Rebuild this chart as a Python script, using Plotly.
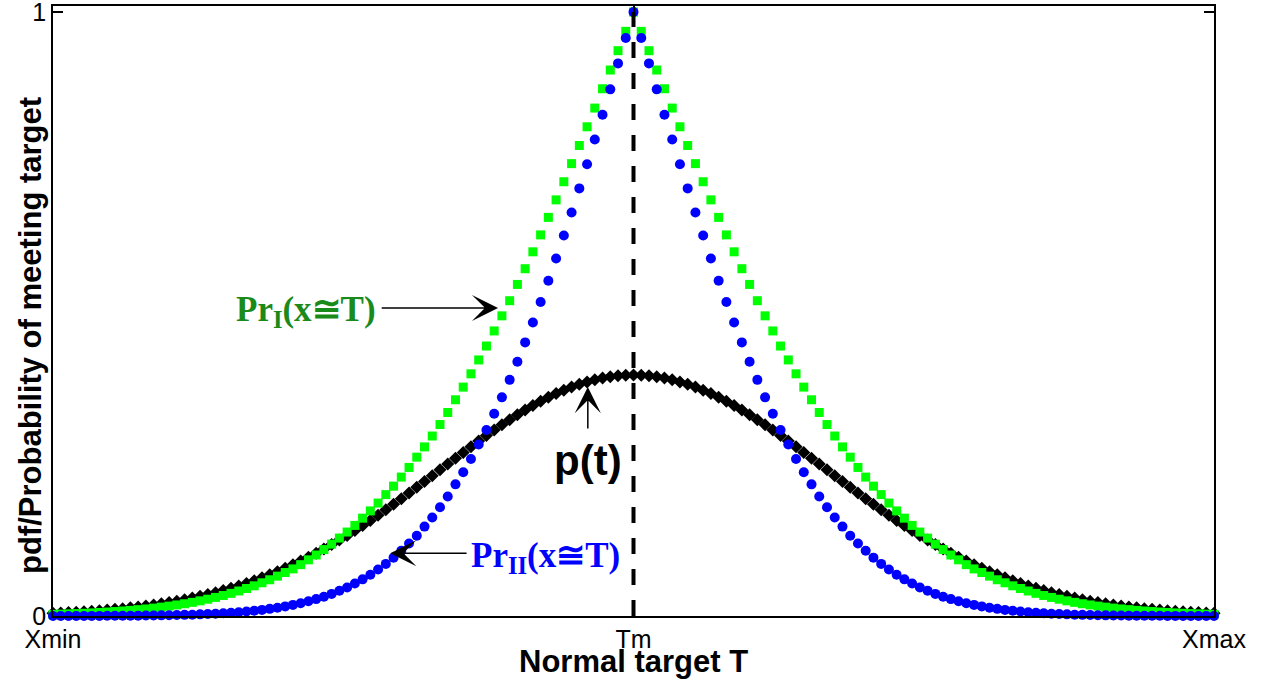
import numpy as np
import plotly.graph_objects as go

# ---- data ----
XMIN, TM, XMAX = -3.0, 0.0, 3.0
N_POINTS = 151
x = np.linspace(XMIN, XMAX, N_POINTS)

# p(t): black diamonds
p_t = [0.0044,0.0050,0.0056,0.0063,0.0071,0.0079,0.0088,0.0099,0.0110,0.0122,0.0136,0.0151,0.0167,0.0184,0.0203,
       0.0224,0.0246,0.0270,0.0297,0.0325,0.0355,0.0387,0.0422,0.0459,0.0498,0.0540,0.0584,0.0632,0.0681,0.0734,
       0.0790,0.0848,0.0909,0.0973,0.1040,0.1109,0.1182,0.1257,0.1334,0.1415,0.1497,0.1582,0.1669,0.1758,0.1849,
       0.1942,0.2036,0.2131,0.2227,0.2323,0.2420,0.2516,0.2613,0.2709,0.2803,0.2897,0.2989,0.3079,0.3166,0.3251,
       0.3332,0.3410,0.3485,0.3555,0.3621,0.3683,0.3739,0.3790,0.3836,0.3876,0.3910,0.3939,0.3961,0.3977,0.3986,
       0.3989,
       0.3986,0.3977,0.3961,0.3939,0.3910,0.3876,0.3836,0.3790,0.3739,0.3683,0.3621,0.3555,0.3485,0.3410,0.3332,
       0.3251,0.3166,0.3079,0.2989,0.2897,0.2803,0.2709,0.2613,0.2516,0.2420,0.2323,0.2227,0.2131,0.2036,0.1942,
       0.1849,0.1758,0.1669,0.1582,0.1497,0.1415,0.1334,0.1257,0.1182,0.1109,0.1040,0.0973,0.0909,0.0848,0.0790,
       0.0734,0.0681,0.0632,0.0584,0.0540,0.0498,0.0459,0.0422,0.0387,0.0355,0.0325,0.0297,0.0270,0.0246,0.0224,
       0.0203,0.0184,0.0167,0.0151,0.0136,0.0122,0.0110,0.0099,0.0088,0.0079,0.0071,0.0063,0.0056,0.0050,0.0044]

# Pr_I(x~T): green squares
pr_1 = [0.0027,0.0031,0.0035,0.0040,0.0045,0.0051,0.0058,0.0065,0.0074,0.0083,0.0093,0.0105,0.0117,0.0131,0.0147,
        0.0164,0.0183,0.0203,0.0226,0.0251,0.0278,0.0308,0.0340,0.0375,0.0414,0.0455,0.050,0.055,0.060,0.066,
        0.072,0.078,0.085,0.093,0.101,0.110,0.119,0.129,0.139,0.150,0.162,0.174,0.187,0.201,0.215,
        0.230,0.246,0.263,0.280,0.298,0.317,0.337,0.358,0.379,0.401,0.424,0.447,0.472,0.497,0.522,
        0.549,0.575,0.603,0.631,0.660,0.689,0.719,0.749,0.779,0.810,0.841,0.873,0.904,0.936,0.968,
        1.000,
        0.968,0.936,0.904,0.873,0.841,0.810,0.779,0.749,0.719,0.689,0.660,0.631,0.603,0.575,0.549,
        0.522,0.497,0.472,0.447,0.424,0.401,0.379,0.358,0.337,0.317,0.298,0.280,0.263,0.246,0.230,
        0.215,0.201,0.187,0.174,0.162,0.150,0.139,0.129,0.119,0.110,0.101,0.093,0.085,0.078,0.072,
        0.066,0.060,0.055,0.050,0.0455,0.0414,0.0375,0.0340,0.0308,0.0278,0.0251,0.0226,0.0203,0.0183,0.0164,
        0.0147,0.0131,0.0117,0.0105,0.0093,0.0083,0.0074,0.0065,0.0058,0.0051,0.0045,0.0040,0.0035,0.0031,0.0027]

# Pr_II(x~T): blue circles
pr_2 = [0.0001,0.0001,0.0001,0.0001,0.0001,0.0002,0.0002,0.0003,0.0003,0.0004,0.0005,0.0006,0.0007,0.0009,0.0011,
        0.0013,0.0016,0.0019,0.0022,0.0027,0.0032,0.0038,0.0045,0.0053,0.0063,0.0074,0.0086,0.0101,0.0118,0.0137,
        0.0159,0.0184,0.0212,0.0244,0.0280,0.0320,0.0366,0.0417,0.0473,0.0537,0.0607,0.0684,0.0769,0.0863,0.0966,
        0.108,0.120,0.133,0.148,0.163,0.180,0.198,0.218,0.238,0.260,0.284,0.308,0.335,0.362,0.391,
        0.421,0.453,0.486,0.520,0.555,0.592,0.630,0.668,0.708,0.748,0.789,0.830,0.872,0.915,0.957,
        1.000,
        0.957,0.915,0.872,0.830,0.789,0.748,0.708,0.668,0.630,0.592,0.555,0.520,0.486,0.453,0.421,
        0.391,0.362,0.335,0.308,0.284,0.260,0.238,0.218,0.198,0.180,0.163,0.148,0.133,0.120,0.108,
        0.0966,0.0863,0.0769,0.0684,0.0607,0.0537,0.0473,0.0417,0.0366,0.0320,0.0280,0.0244,0.0212,0.0184,0.0159,
        0.0137,0.0118,0.0101,0.0086,0.0074,0.0063,0.0053,0.0045,0.0038,0.0032,0.0027,0.0022,0.0019,0.0016,0.0013,
        0.0011,0.0009,0.0007,0.0006,0.0005,0.0004,0.0003,0.0003,0.0002,0.0002,0.0001,0.0001,0.0001,0.0001,0.0001]

assert len(p_t) == N_POINTS and len(pr_1) == N_POINTS and len(pr_2) == N_POINTS

x_tick_vals = [XMIN, TM, XMAX]
x_tick_text = ["Xmin", "Tm", "Xmax"]
y_tick_vals = [0, 1]
y_tick_text = ["0", "1"]

# ---- figure ----
fig = go.Figure()
fig.add_trace(go.Scatter(x=x, y=p_t, mode="markers", cliponaxis=False,
                         marker=dict(symbol="diamond", size=10, color="black", line=dict(width=0)),
                         name="p(t)"))
fig.add_trace(go.Scatter(x=x, y=pr_1, mode="markers", cliponaxis=False,
                         marker=dict(symbol="square", size=9, color="#00ff00", line=dict(width=0)),
                         name="Pr_I"))
fig.add_trace(go.Scatter(x=x, y=pr_2, mode="markers", cliponaxis=False,
                         marker=dict(symbol="circle", size=10, color="#0000ff", line=dict(width=0)),
                         name="Pr_II"))
fig.add_trace(go.Scatter(x=[TM, TM], y=[0, 1], mode="lines",
                         line=dict(color="black", width=4, dash="16px,15px"), name="Tm"))

SANS = "Liberation Sans, Arial, sans-serif"
SERIF = "Liberation Serif, Times New Roman, serif"
axis_font = dict(family=SANS, size=25, color="black")

fig.update_xaxes(range=[XMIN, XMAX], tickvals=x_tick_vals, ticktext=x_tick_text,
                 ticks="inside", ticklen=10, tickwidth=1.5, tickcolor="black",
                 showline=True, linecolor="black", linewidth=1.5, mirror="ticks",
                 showgrid=False, zeroline=False, tickfont=axis_font, automargin=False,
                 ticklabeloverflow="allow")
fig.update_yaxes(range=[0, 1.01], tickvals=y_tick_vals, ticktext=y_tick_text,
                 ticks="inside", ticklen=10, tickwidth=1.5, tickcolor="black",
                 showline=True, linecolor="black", linewidth=1.5, mirror="ticks",
                 showgrid=False, zeroline=False, tickfont=axis_font, automargin=False,
                 ticklabeloverflow="allow")

arrow_style = dict(showarrow=True, arrowhead=3, arrowsize=2.9, arrowwidth=1.5, arrowcolor="black",
                   xref="x", yref="y", axref="x", ayref="y", text="")
annotations = [
    dict(x=-0.700, y=0.510, ax=-1.309, ay=0.510, **arrow_style),
    dict(x=-1.257, y=0.104, ax=-0.855, ay=0.104, **arrow_style),
    dict(x=-0.236, y=0.379, ax=-0.236, ay=0.308, **arrow_style),
    dict(x=-1.319, y=0.505, xref="x", yref="y", xanchor="right", yanchor="middle", showarrow=False,
         text="<b>Pr<sub>I</sub>(x≅T)</b>", font=dict(family=SERIF, size=35, color="#1a8a1a")),
    dict(x=-0.849, y=0.097, xref="x", yref="y", xanchor="left", yanchor="middle", showarrow=False,
         text="<b>Pr<sub>II</sub>(x≅T)</b>", font=dict(family=SERIF, size=35, color="#0000ff")),
    dict(x=-0.237, y=0.257, xref="x", yref="y", xanchor="center", yanchor="middle", showarrow=False,
         text="<b>p(t)</b>", font=dict(family=SANS, size=42, color="black")),
    # axis titles
    dict(x=0.5, y=-0.0754, xref="paper", yref="paper", xanchor="center", yanchor="middle", showarrow=False,
         text="<b>Normal target T</b>", font=dict(family=SANS, size=31, color="black")),
    dict(x=-0.0198, y=0.459, xref="paper", yref="paper", xanchor="center", yanchor="middle", showarrow=False,
         textangle=-90, text="<b>pdf/Probability of meeting target</b>",
         font=dict(family=SANS, size=31, color="black")),
]
fig.update_layout(width=1264, height=686, margin=dict(l=53, r=50, t=6, b=70),
                  plot_bgcolor="white", paper_bgcolor="white", showlegend=False,
                  annotations=annotations)

# remove the default 8px page margin so the figure fills the window exactly
fig.write_html("out.html", config={"displayModeBar": False},
               post_script="document.body.style.margin='0';document.body.style.overflow='hidden';")
